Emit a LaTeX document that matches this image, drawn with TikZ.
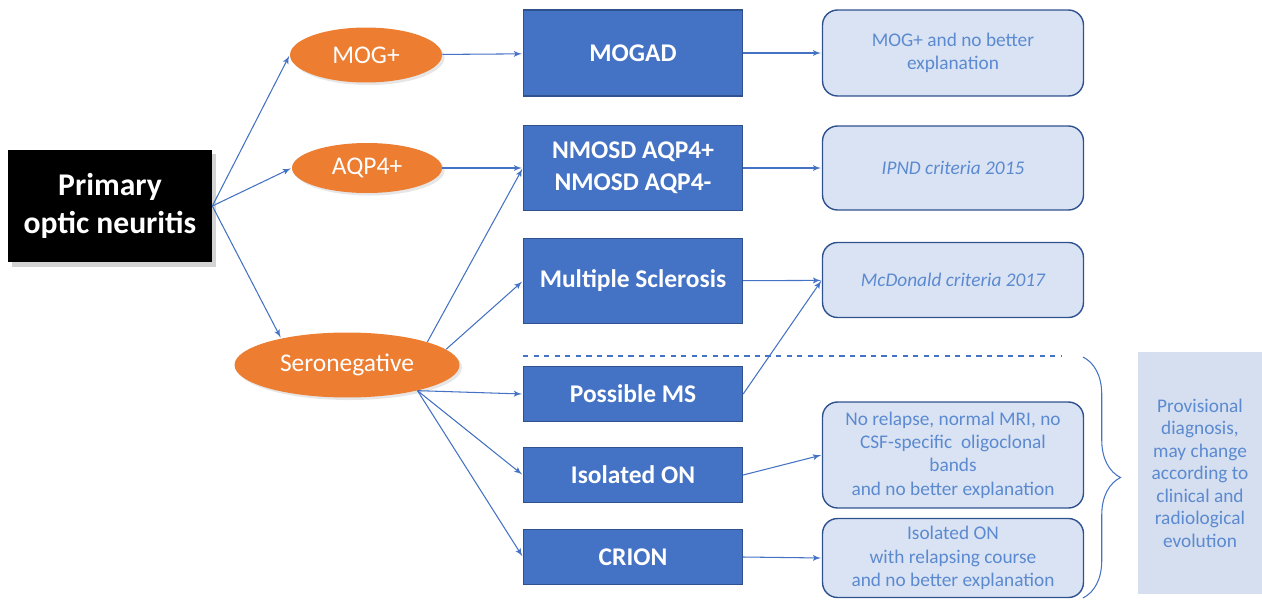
\documentclass[tikz,border=0pt]{standalone}
\usepackage{fontspec}
\setmainfont{Carlito}
\usepackage{tikz}
\usetikzlibrary{arrows}
\usetikzlibrary{shapes.geometric}
\usetikzlibrary{shadows}
\usetikzlibrary{decorations.pathreplacing}

\definecolor{onorange}{HTML}{ED7D31}
\definecolor{onblue}{HTML}{4472C4}
\definecolor{onborder}{HTML}{2F528F}
\definecolor{onpale}{HTML}{DAE3F3}
\definecolor{ontext}{HTML}{5B8AD0}
\definecolor{onside}{HTML}{D6DFF0}

\begin{document}
\begin{tikzpicture}[x=0.02cm,y=-0.02cm]
  \tikzset{start/.style = {shape=rectangle,fill=black,text=white,minimum width=4.08cm,minimum height=2.26cm,align=center,font=\fontsize{18}{22}\selectfont\bfseries,drop shadow={opacity=0.35}}}
  \tikzset{sero/.style = {shape=ellipse,fill=onorange,text=white,inner sep=0pt,font=\fontsize{14.5}{17}\selectfont,drop shadow={opacity=0.2,shadow xshift=0.3ex,shadow yshift=-0.3ex}}}
  \tikzset{diag/.style = {shape=rectangle,fill=onblue,draw=onborder,line width=0.8pt,text=white,minimum width=4.38cm,align=center,font=\fontsize{14.5}{18}\selectfont\bfseries}}
  \tikzset{crit/.style = {shape=rectangle,rounded corners=0.3cm,fill=onpale,draw=onborder,line width=0.8pt,text=ontext,minimum width=5.22cm,align=center,font=\fontsize{11}{13.3}\selectfont}}
  \tikzset{edge/.style = {->,>=latex',draw=onblue,line width=0.6pt,shorten >=0.5pt}}

  \useasboundingbox (0,0) rectangle (1262,599);

	\node[start] (P) at (110,206) {Primary\\optic neuritis};

	\node[sero,minimum width=3.04cm,minimum height=1.1cm] (MOG) at (366,55) {MOG+};
	\node[sero,minimum width=3.0cm,minimum height=1.0cm] (AQP) at (367,168) {AQP4+};
	\node[sero,minimum width=4.5cm,minimum height=1.3cm] (SN) at (347,365) {Seronegative};

	\node[diag,minimum height=1.72cm] (MOGAD) at (633,53) {MOGAD};
	\node[diag,minimum height=1.7cm] (NMOSD) at (633,168) {NMOSD AQP4+\\NMOSD AQP4-};
	\node[diag,minimum height=1.7cm] (MS) at (633,281) {Multiple Sclerosis};
	\node[diag,minimum height=1.1cm] (PMS) at (633,394) {Possible MS};
	\node[diag,minimum height=1.1cm] (ION) at (633,475) {Isolated ON};
	\node[diag,minimum height=1.1cm] (CRION) at (633,557) {CRION};

	\node[crit,minimum height=1.72cm] (C1) at (953,53) {MOG+ and no better\\explanation};
	\node[crit,minimum height=1.68cm] (C2) at (953,168) {\itshape IPND criteria 2015};
	\node[crit,minimum height=1.5cm] (C3) at (953,280) {\itshape McDonald criteria 2017};
	\node[crit,minimum height=2.12cm] (C4) at (953,455) {No relapse, normal MRI, no\\CSF-specific\ \ oligoclonal\\bands\\and no better explanation};
	\node[crit,minimum height=1.58cm] (C5) at (953,558) {Isolated ON\\with relapsing course\\and no better explanation};

	\node[shape=rectangle,fill=onside,text=ontext,minimum width=2.48cm,minimum height=4.84cm,align=center,font=\fontsize{11}{12.8}\selectfont] (PROV) at (1200,473) {Provisional\\diagnosis,\\may change\\according to\\clinical and\\radiological\\evolution};

	\coordinate (DL) at (523,356);
	\coordinate (DR) at (1062,356);
	\coordinate (BT) at (1083,357);
	\coordinate (BB) at (1083,598);

	\draw[onblue,dashed,line width=0.6pt] (DL) -- (DR);
	\draw[onblue,line width=0.6pt,decorate,decoration={brace,amplitude=0.75cm}] (BT) -- (BB);

       \foreach \from/\to in {P.east/MOG.west, P.east/AQP.west, P.east/SN.158, MOG/MOGAD, AQP/NMOSD, SN.16/NMOSD.west, SN.9/MS.west, SN.-20/PMS.west, SN.-20/ION.west, SN.-20/CRION.west, MOGAD/C1, NMOSD/C2, MS/C3, PMS.east/C3.west, ION.east/C4.west, CRION.east/C5.west}
    \path (\from) edge[edge] (\to);

\end{tikzpicture}
\end{document}
